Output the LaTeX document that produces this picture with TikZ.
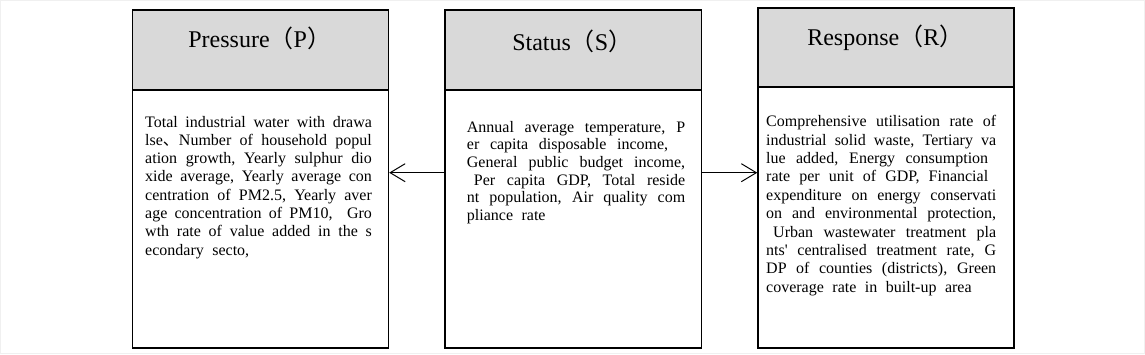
\documentclass[tikz,border=0pt]{standalone}
\usepackage{fontspec}
\setmainfont{Liberation Serif}
\newfontfamily\cjk{Noto Sans CJK SC}
\usetikzlibrary{arrows.meta}
\newcommand{\jl}[2]{\makebox[#1][s]{#2}\par}
\newcommand{\nl}[1]{\mbox{#1}\par}
\newcommand{\lp}{{\cjk （}}
\newcommand{\rp}{{\cjk ）}}
\newcommand{\bodysetup}[1]{\setlength{\parindent}{0pt}\setlength{\baselineskip}{#1}\spaceskip=8.5bp plus 20bp minus 5bp\relax}
\begin{document}
\begin{tikzpicture}[x=1bp,y=-1bp,
  boxpart/.style={draw,line width=1.5bp,inner sep=0pt,anchor=north west},
  hdr/.style={boxpart,fill=gray!30},
  bodybox/.style={boxpart,fill=white},
  ttl/.style={inner sep=0pt,anchor=base,font=\fontsize{24bp}{28bp}\selectfont},
  bodytext/.style={inner sep=0pt,anchor=base west,font=\fontsize{16bp}{18.3bp}\selectfont},
  arr/.style={line width=1bp,-{Straight Barb[length=15bp,width=18bp]}}]
\useasboundingbox (0,0) rectangle (1145,354);
\draw[gray!12,line width=1bp] (0.5,0.5) rectangle (1144.5,353.5);
% Pressure
\node[hdr,minimum width=256bp,minimum height=79.7bp] (ph) at (131.7,9.3) {};
\node[bodybox,minimum width=256bp,minimum height=258bp] (pb) at (131.7,89) {};
\node[ttl] (pt) at (259.7,47.7) {Pressure\lp P\rp};
\node[bodytext] (px) at (145,127) {\parbox[t]{226.7bp}{\bodysetup{18.33bp}%
\jl{226.7bp}{Total industrial water with drawa}%
\jl{226.7bp}{lse{\cjk 、}Number of household popul}%
\jl{226.7bp}{ation growth, Yearly sulphur dio}%
\jl{226.7bp}{xide average, Yearly average con}%
\jl{226.7bp}{centration of PM2.5, Yearly aver}%
\jl{226.7bp}{age concentration of PM10,\ \ Gro}%
\jl{226.7bp}{wth rate of value added in the s}%
\nl{econdary secto,}}};
% Status
\node[hdr,minimum width=256.7bp,minimum height=79.7bp] (sh) at (444,9.3) {};
\node[bodybox,minimum width=256.7bp,minimum height=258bp] (sb) at (444,89) {};
\node[ttl] (st) at (572.3,50) {Status\lp S\rp};
\node[bodytext] (sx) at (466.7,132) {\parbox[t]{218.3bp}{\bodysetup{17.7bp}%
\jl{218.3bp}{Annual average temperature, P}%
\jl{218.3bp}{er capita disposable income,\hspace{17bp}}%
\jl{218.3bp}{General public budget income,}%
\jl{218.3bp}{\hspace*{7bp}Per capita GDP, Total reside}%
\jl{218.3bp}{nt population, Air quality com}%
\nl{pliance rate}}};
% Response
\node[hdr,minimum width=256bp,minimum height=78.7bp] (rh) at (757.3,7.3) {};
\node[bodybox,minimum width=256bp,minimum height=261bp] (rb) at (757.3,86) {};
\node[ttl] (rt) at (885.3,45.7) {Response\lp R\rp};
\node[bodytext] (rx) at (766,126.7) {\parbox[t]{230bp}{\bodysetup{18.4bp}%
\jl{230bp}{Comprehensive utilisation rate of}%
\jl{230bp}{industrial solid waste, Tertiary va}%
\jl{230bp}{lue added, Energy consumption\hspace{8bp}}%
\jl{230bp}{rate per unit of GDP, Financial\hspace{8bp}}%
\jl{230bp}{expenditure on energy conservati}%
\jl{230bp}{on and environmental protection,}%
\jl{230bp}{\hspace*{7bp}Urban wastewater treatment pla}%
\jl{230bp}{nts\textquotesingle{} centralised treatment rate, G}%
\jl{230bp}{DP of counties (districts), Green}%
\nl{coverage rate in built-up area}}};
% arrows
\coordinate (ay) at (0,172.7);
\draw[arr] (sb.west |- ay) -- (pb.east |- ay);
\draw[arr] (sb.east |- ay) -- (rb.west |- ay);
\end{tikzpicture}
\end{document}
